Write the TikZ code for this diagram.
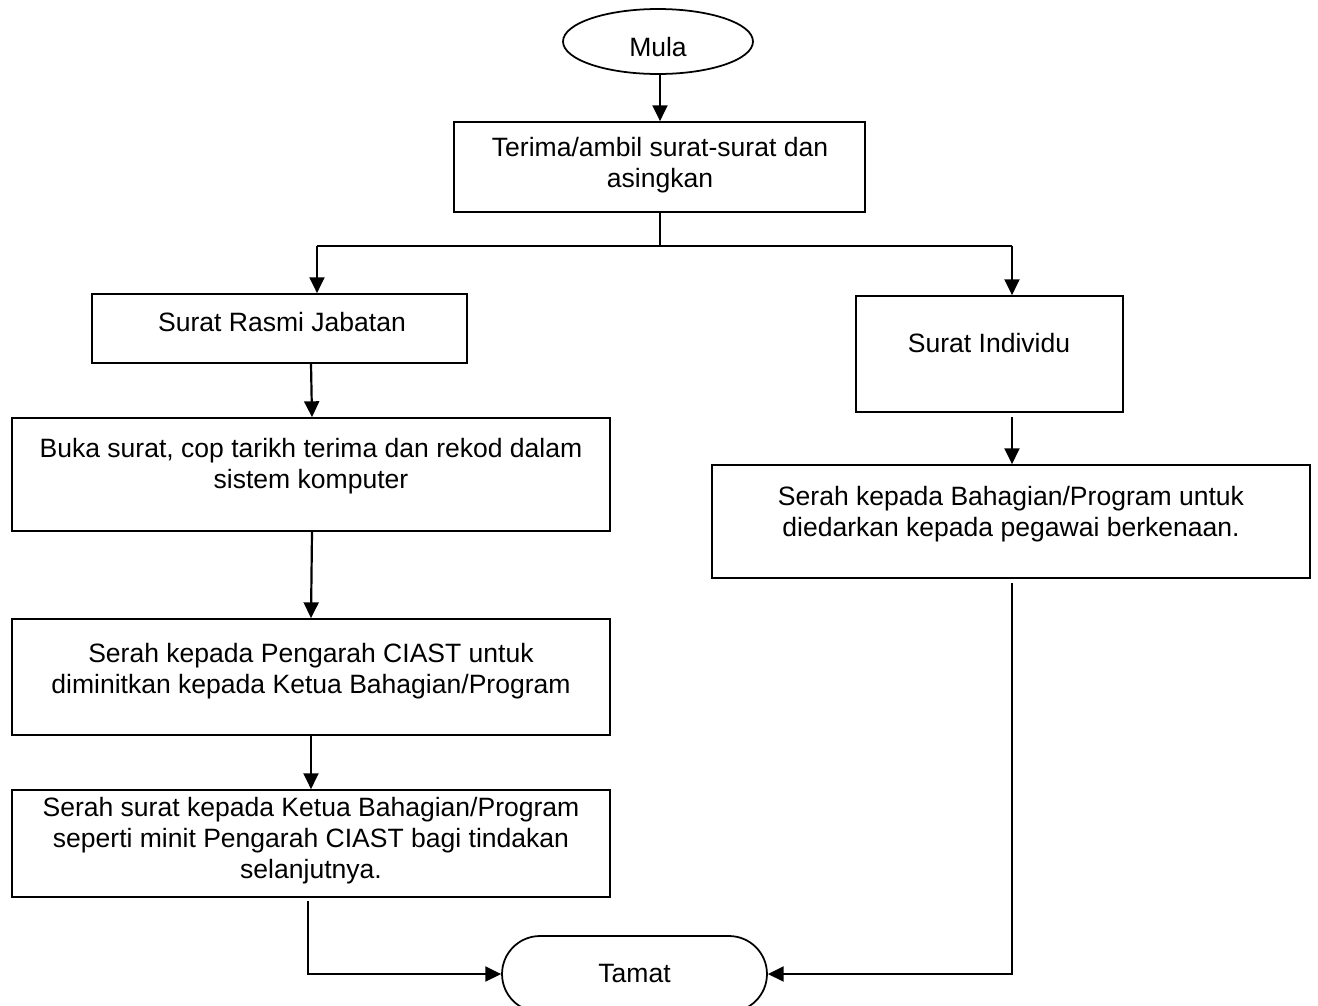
\documentclass[tikz,border=0pt]{standalone}
\usepackage{fontspec}
\setmainfont{Liberation Sans}
\usetikzlibrary{arrows.meta,shapes.geometric,shapes.misc}
\begin{document}
\begin{tikzpicture}[x=0.02cm,y=-0.02cm,
  box/.style={draw,line width=1pt,rectangle,inner sep=0pt},
  txt/.style={align=center,font=\fontsize{15.1}{17.7}\selectfont,inner sep=0pt},
  arr/.style={line width=1.25pt,-{Triangle[length=9pt,width=8.5pt]}},
  ln/.style={line width=1pt}]
\useasboundingbox (0,0) rectangle (1318,1005);
\fill[white] (0,0) rectangle (1318,1005);

% shapes
\node[draw,ellipse,line width=1pt,inner sep=0pt,minimum width=3.8cm,minimum height=1.3cm] (mula) at (658,41.5) {};
\node[box,minimum width=8.22cm,minimum height=1.8cm] (b1) at (659.5,167) {};
\node[box,minimum width=7.5cm,minimum height=1.38cm] (sr) at (279.5,328.5) {};
\node[box,minimum width=5.34cm,minimum height=2.32cm] (si) at (989.5,354) {};
\node[box,minimum width=11.96cm,minimum height=2.26cm] (bk) at (311,474.5) {};
\node[box,minimum width=11.96cm,minimum height=2.32cm] (sp) at (311,677) {};
\node[box,minimum width=11.96cm,minimum height=2.14cm] (ss) at (311,843.5) {};
\node[box,minimum width=11.96cm,minimum height=2.26cm] (rb) at (1011,521.5) {};
\node[draw,rounded rectangle,line width=1pt,inner sep=0pt,minimum width=5.3cm,minimum height=1.52cm] (tamat) at (634.5,974) {};

% texts
\node[txt] (tmula) at (658,47) {Mula};
\node[txt] (tb1) at (660,165) {Terima/ambil surat-surat dan\\asingkan};
\node[txt] (tsr) at (282,322) {Surat Rasmi Jabatan};
\node[txt] (tsi) at (989,343) {Surat Individu};
\node[txt] (tbk) at (311,466) {Buka surat, cop tarikh terima dan rekod dalam\\sistem komputer};
\node[txt] (tsp) at (311,671) {Serah kepada Pengarah CIAST untuk\\diminitkan kepada Ketua Bahagian/Program};
\node[txt] (tss) at (311,841) {Serah surat kepada Ketua Bahagian/Program\\seperti minit Pengarah CIAST bagi tindakan\\selanjutnya.};
\node[txt] (trb) at (1011,514) {Serah kepada Bahagian/Program untuk\\diedarkan kepada pegawai berkenaan.};
\node[txt] (ttamat) at (634.5,973) {Tamat};

% helper coordinates
\coordinate (x660) at (660,0);
\coordinate (x311) at (311,0);
\coordinate (x312) at (312,0);
\coordinate (x1012) at (1012,0);
\coordinate (split) at (660,246);
\coordinate (sl) at (317,246);
\coordinate (srt) at (1012,246);
\coordinate (c1) at (308,901);
\coordinate (c3) at (1012,583);
\coordinate (c4) at (1012,417);

% connectors
\draw[arr] (x660 |- mula.south) -- (x660 |- b1.north);
\draw[ln] (x660 |- b1.south) -- (split);
\draw[ln] (sl) -- (srt);
\draw[arr] (sl) -- (sl |- sr.north);
\draw[arr] (srt) -- (srt |- si.north);
\draw[arr] (x311 |- sr.south) -- (x312 |- bk.north);
\draw[arr] (x312 |- bk.south) -- (x311 |- sp.north);
\draw[arr] (x311 |- sp.south) -- (x311 |- ss.north);
\draw[arr] (c1) |- (tamat.west);
\draw[arr] (c4) -- (x1012 |- rb.north);
\draw[arr] (c3) |- (tamat.east);
\end{tikzpicture}
\end{document}
